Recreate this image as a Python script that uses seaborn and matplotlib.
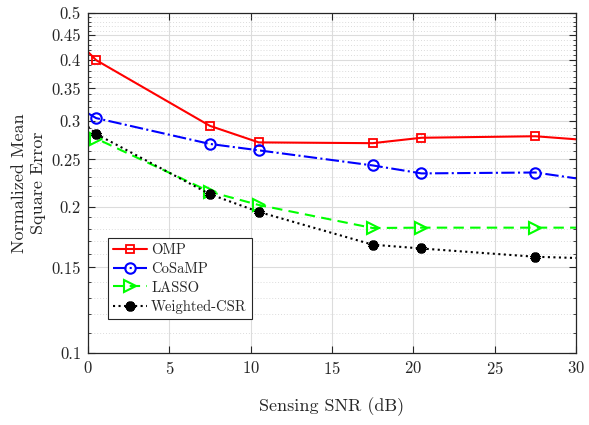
import matplotlib
matplotlib.use("Agg")
import matplotlib.pyplot as plt
import matplotlib.ticker as mticker
import seaborn as sns
import numpy as np

# sensing SNR (dB); markers only on the inner points
snr = [0, 0.5, 7.5, 10.5, 17.5, 20.5, 27.5, 30]
omp = [0.416, 0.400, 0.293, 0.271, 0.270, 0.277, 0.279, 0.275]
cosamp = [0.311, 0.304, 0.269, 0.261, 0.243, 0.234, 0.235, 0.2286]
lasso = [0.284, 0.276, 0.2145, 0.2015, 0.1807, 0.181, 0.181, 0.181]
wcsr = [0.292, 0.282, 0.212, 0.195, 0.167, 0.164, 0.1577, 0.1568]

sns.set_style("ticks")
plt.rcParams['font.family'] = ['cmr10', 'DejaVu Serif']
plt.rcParams['mathtext.fontset'] = 'cm'
plt.rcParams['axes.formatter.use_mathtext'] = True

fig = plt.figure(figsize=(5.89, 4.25), dpi=100)
ax = fig.add_axes([88 / 589, 1 - 353 / 425, 488 / 589, 340 / 425])

mk = [1, 2, 3, 4, 5, 6]
sns.lineplot(x=snr, y=omp, ax=ax, color='#ff0000', lw=1.5, ls='-', marker='s',
             ms=6, mfc='none', mec='#ff0000', mew=1.3, markevery=mk, label='OMP')
sns.lineplot(x=snr, y=cosamp, ax=ax, color='#0000ff', lw=1.5, ls='-.', marker='o',
             ms=7.5, mfc='none', mec='#0000ff', mew=1.5, markevery=mk, label='CoSaMP')
sns.lineplot(x=snr, y=lasso, ax=ax, color='#00ff00', lw=1.5, ls=(0, (5, 3)), marker='>',
             ms=8, mfc='none', mec='#00ff00', mew=1.5, markevery=mk, label='LASSO')
sns.lineplot(x=snr, y=wcsr, ax=ax, color='black', lw=1.5, ls=':', marker=(6, 2, 0),
             ms=7, mfc='black', mec='black', mew=3, markevery=mk, label='Weighted-CSR')

ax.set_yscale('log')
ax.set_xlim(0, 30)
ax.set_ylim(0.1, 0.5)
ax.set_xticks([0, 5, 10, 15, 20, 25, 30])
yt = [0.1, 0.15, 0.2, 0.25, 0.3, 0.35, 0.4, 0.45, 0.5]
ax.yaxis.set_major_locator(mticker.FixedLocator(yt))
ax.yaxis.set_major_formatter(mticker.FixedFormatter(['0.1', '0.15', '0.2', '0.25', '0.3',
                                                     '0.35', '0.4', '0.45', '0.5']))
minor = [v / 100 for v in range(11, 50) if v % 5 != 0]
ax.yaxis.set_minor_locator(mticker.FixedLocator(minor))
ax.yaxis.set_minor_formatter(mticker.NullFormatter())
ax.xaxis.set_minor_locator(mticker.NullLocator())

ax.grid(True, which='major', color='#dcdcdc', lw=0.8)
ax.grid(True, which='minor', axis='y', color='#dcdcdc', lw=0.7, ls=(0, (1, 2)))
ax.set_axisbelow(True)
ax.tick_params(which='both', direction='in', top=True, right=True, labelsize=12,
               color='#262626', pad=5)
ax.tick_params(which='major', length=5)
ax.tick_params(which='minor', length=2.5)
for s in ax.spines.values():
    s.set_color('#262626')
    s.set_linewidth(0.9)

ax.set_xlabel('Sensing SNR (dB)', fontsize=13, labelpad=15)
ax.set_ylabel('Normalized Mean\nSquare Error', fontsize=13, labelpad=4,
              linespacing=1.3)

leg = ax.legend(loc='lower left', bbox_to_anchor=(0.041, 0.1), fontsize=10.5,
                fancybox=False, framealpha=1, edgecolor='#262626', handlelength=2.3,
                borderpad=0.35, labelspacing=0.35, handletextpad=0.3, borderaxespad=0)
leg.get_frame().set_linewidth(0.8)

fig.savefig('out.png', dpi=100)
